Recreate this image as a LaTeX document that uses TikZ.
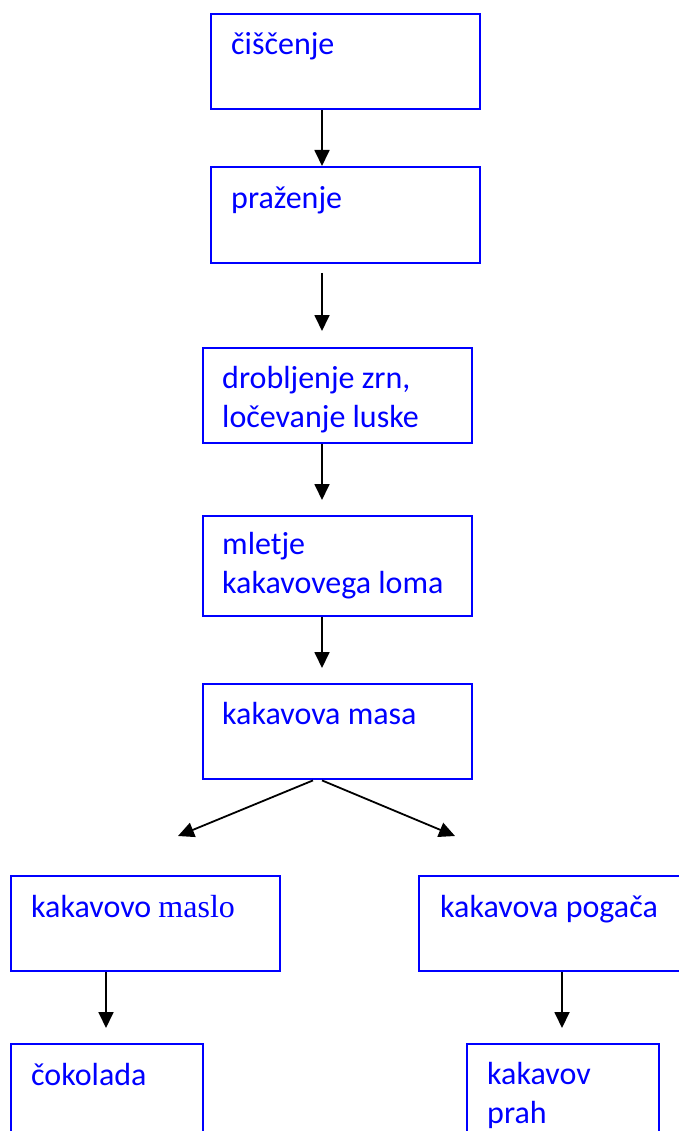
\documentclass[tikz,border=0pt]{standalone}
\usepackage{fontspec}
\setmainfont{Carlito}
\newfontfamily\timesfont{Liberation Serif}
\usetikzlibrary{arrows.meta,calc}
\definecolor{bblue}{RGB}{0,0,255}
\tikzset{
  box/.style={draw=bblue, line width=2.4pt, anchor=north west, inner sep=0pt, fill=white},
  lbl/.style={text=bblue, font=\fontsize{32}{39}\selectfont, anchor=base west, inner sep=0pt, align=left},
  arr/.style={line width=1.8pt, -{Triangle[length=16pt,width=15pt]}}
}
\begin{document}
\begin{tikzpicture}[x=1pt,y=-1pt]
\useasboundingbox (0,0) rectangle (678,1131);
% boxes
\node[box, minimum width=269pt, minimum height=95pt] (b1) at (210,13) {};
\node[box, minimum width=269pt, minimum height=96pt] (b2) at (210,166) {};
\node[box, minimum width=269pt, minimum height=95pt] (b3) at (202,347) {};
\node[box, minimum width=269pt, minimum height=100pt] (b4) at (202,515) {};
\node[box, minimum width=269pt, minimum height=95pt] (b5) at (202,683) {};
\node[box, minimum width=269pt, minimum height=95pt] (b6) at (10,875) {};
\node[box, minimum width=262pt, minimum height=95pt] (b7) at (418,875) {};
\node[box, minimum width=192pt, minimum height=110pt] (b8) at (10,1043) {};
\node[box, minimum width=192pt, minimum height=110pt] (b9) at (466,1043) {};
% labels
\node[lbl] (t1) at (231,55) {čiščenje};
\node[lbl] (t2) at (231,209) {praženje};
\node[lbl] (t3) at (222,427) {drobljenje zrn,\\ločevanje luske};
\node[lbl] (t4) at (222,593) {mletje\\kakavovega loma};
\node[lbl] (t5) at (222,724) {kakavova masa};
\node[lbl] (t6) at (31,917) {kakavovo {\timesfont maslo}};
\node[lbl] (t7) at (440,917) {kakavova pogača};
\node[lbl] (t8) at (31,1085) {čokolada};
\node[lbl] (t9) at (487,1123) {kakavov\\prah};
% connector points
\coordinate (a2s) at (322,273);
\coordinate (a2e) at (322,331);
\coordinate (lt) at (178,836);
\coordinate (rt) at (455,836);
% arrows
\draw[arr] (b1.south -| 322,0) -- (b2.north -| 322,0);
\draw[arr] (a2s) -- (a2e);
\draw[arr, shorten >=15pt] (b3.south -| 322,0) -- (b4.north -| 322,0);
\draw[arr, shorten >=15pt] (b4.south -| 322,0) -- (b5.north -| 322,0);
\draw[arr] (b5.south -| 313,0) -- (lt);
\draw[arr] (b5.south -| 322,0) -- (rt);
\draw[arr, shorten >=15pt] (b6.south -| 106,0) -- (b8.north -| 106,0);
\draw[arr, shorten >=15pt] (b7.south -| 562,0) -- (b9.north -| 562,0);
\end{tikzpicture}
\end{document}
